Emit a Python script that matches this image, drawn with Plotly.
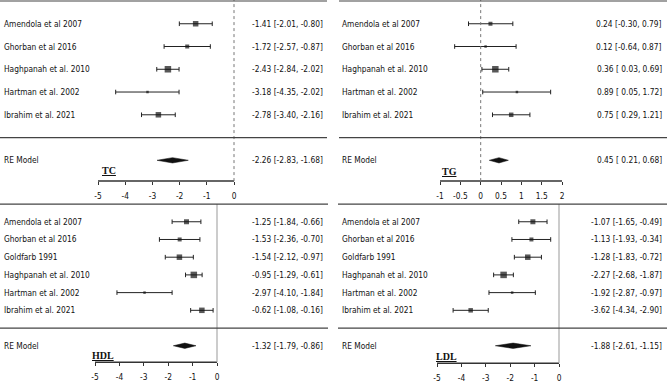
import plotly.graph_objects as go

W, H = 669, 383

# ---------------- data ----------------
studies_top = ["Amendola et al 2007", "Ghorban et al 2016", "Haghpanah et al. 2010",
               "Hartman et al. 2002", "Ibrahim et al. 2021"]
studies_bottom = ["Amendola et al 2007", "Ghorban et al 2016", "Goldfarb 1991",
                  "Haghpanah et al. 2010", "Hartman et al. 2002", "Ibrahim et al. 2021"]

tc_est = [-1.41, -1.72, -2.43, -3.18, -2.78]
tc_lo = [-2.01, -2.57, -2.84, -4.35, -3.40]
tc_hi = [-0.80, -0.87, -2.02, -2.02, -2.16]
tc_re = [-2.26, -2.83, -1.68]

tg_est = [0.24, 0.12, 0.36, 0.89, 0.75]
tg_lo = [-0.30, -0.64, 0.03, 0.05, 0.29]
tg_hi = [0.79, 0.87, 0.69, 1.72, 1.21]
tg_re = [0.45, 0.21, 0.68]

hdl_est = [-1.25, -1.53, -1.54, -0.95, -2.97, -0.62]
hdl_lo = [-1.84, -2.36, -2.12, -1.29, -4.10, -1.08]
hdl_hi = [-0.66, -0.70, -0.97, -0.61, -1.84, -0.16]
hdl_re = [-1.32, -1.79, -0.86]

ldl_est = [-1.07, -1.13, -1.28, -2.27, -1.92, -3.62]
ldl_lo = [-1.65, -1.93, -1.83, -2.68, -2.87, -4.34]
ldl_hi = [-0.49, -0.34, -0.72, -1.87, -0.97, -2.90]
ldl_re = [-1.88, -2.61, -1.15]

ticks_wide = [-5, -4, -3, -2, -1, 0]
ticktext_wide = ["-5", "-4", "-3", "-2", "-1", "0"]
ticks_tg = [-1, -0.5, 0, 0.5, 1, 1.5, 2]
ticktext_tg = ["-1", "-0.5", "0", "0.5", "1", "1.5", "2"]

# ---------------- style ----------------
sq_tc = [5.5, 4, 6.5, 2.5, 5.5]
sq_tg = [4, 2.5, 6.5, 2.5, 4.5]
sq_hdl = [5, 4, 5.5, 6.5, 2.5, 5.5]
sq_ldl = [5, 4, 5.5, 6.5, 2.5, 4.5]

FONT = "DejaVu Sans Condensed, Liberation Sans Narrow, Arial Narrow, sans-serif"
FS = 8.3
INK = "#111111"
LINE = "#444444"

fig = go.Figure()
shapes = []
annotations = []


def fmt_col(vals):
    s = [f"{v:.2f}" for v in vals]
    w = max(len(t) for t in s)
    return [t.rjust(w) for t in s]


def add_panel(i, studies, est, lo, hi, re, sq, ticks, ticktext, title,
              xl, xr, zero_px, ppu, ytop, ybot, row0_px, rpp, axis_px,
              label_px, right_px, top_row, zero_dash, title_px):
    xa = "x" if i == 1 else f"x{i}"
    ya = "y" if i == 1 else f"y{i}"
    xkey = "xaxis" if i == 1 else f"xaxis{i}"
    ykey = "yaxis" if i == 1 else f"yaxis{i}"
    k = len(studies)
    rows = list(range(k, 0, -1))
    xrange_ = [(xl - zero_px) / ppu, (xr - zero_px) / ppu]
    yrange_ = [(row0_px - ybot) / rpp, (row0_px - ytop) / rpp]
    axis_row = (row0_px - axis_px) / rpp

    # study estimates with CIs
    fig.add_trace(go.Scatter(
        x=est, y=rows, mode="markers", xaxis=xa, yaxis=ya,
        marker=dict(symbol="square", size=sq, color=INK, line=dict(width=0)),
        error_x=dict(type="data", symmetric=False,
                     array=[h - e for h, e in zip(hi, est)],
                     arrayminus=[e - l for e, l in zip(est, lo)],
                     color="#222", thickness=1, width=2.3),
        showlegend=False, hoverinfo="skip"))
    # RE diamond
    h = 2.7 / rpp
    fig.add_trace(go.Scatter(
        x=[re[1], re[0], re[2], re[0], re[1]],
        y=[-1, -1 + h, -1, -1 - h, -1],
        mode="lines", fill="toself", fillcolor=INK,
        line=dict(color=INK, width=0.5), xaxis=xa, yaxis=ya,
        showlegend=False, hoverinfo="skip"))

    fig.layout[xkey] = dict(
        domain=[xl / W, xr / W], range=xrange_, anchor="free",
        position=1 - axis_px / H, showgrid=False, zeroline=False,
        showline=False, tickmode="array", tickvals=ticks, ticktext=ticktext,
        ticks="outside", ticklen=3, tickwidth=1.2, tickcolor="#333",
        tickfont=dict(family=FONT, size=FS, color=INK),
        ticklabelstandoff=4, fixedrange=True)
    fig.layout[ykey] = dict(
        domain=[1 - ybot / H, 1 - ytop / H], range=yrange_, visible=False,
        anchor=xa, fixedrange=True)

    # axis line
    shapes.append(dict(type="line", xref=xa, yref=ya, x0=ticks[0], x1=ticks[-1],
                       y0=axis_row, y1=axis_row, line=dict(color="#333", width=1.5)))
    # zero reference line
    y_top_zero = yrange_[1] if zero_dash == "dot" else top_row
    shapes.append(dict(type="line", xref=xa, yref=ya, x0=0, x1=0,
                       y0=axis_row, y1=y_top_zero,
                       line=dict(color="#777" if zero_dash == "dot" else "#999",
                                 width=1, dash=zero_dash)))
    # horizontal rules
    for r in (top_row, 0):
        shapes.append(dict(type="line", xref=f"{xa} domain", yref=ya, x0=0, x1=1,
                           y0=r, y1=r, line=dict(color=LINE, width=1.2)))

    # labels
    lab_x = (label_px - xl) / (xr - xl)
    est_x = (right_px - xl) / (xr - xl)
    c_est = fmt_col(est + [re[0]])
    c_lo = fmt_col(lo + [re[1]])
    c_hi = fmt_col(hi + [re[2]])
    texts = [f"{a} [{b}, {c}]" for a, b, c in zip(c_est, c_lo, c_hi)]
    for name, r in zip(studies + ["RE Model"], rows + [-1]):
        annotations.append(dict(text=name, xref=f"{xa} domain", yref=ya,
                                x=lab_x, y=r, xanchor="left", yanchor="middle",
                                showarrow=False,
                                font=dict(family=FONT, size=FS, color=INK)))
    for t, r in zip(texts, rows + [-1]):
        annotations.append(dict(text=t.replace(" ", "\u00a0"), xref=f"{xa} domain", yref=ya,
                                x=est_x, y=r, xanchor="right", yanchor="middle",
                                showarrow=False,
                                font=dict(family=FONT, size=FS, color=INK)))
    annotations.append(dict(text=f"<b><u>{title}</u></b>", xref="paper", yref="paper",
                            x=title_px[0] / W, y=1 - title_px[1] / H,
                            xanchor="center", yanchor="middle", showarrow=False,
                            font=dict(family="Liberation Serif, DejaVu Serif, serif",
                                      size=10, color=INK)))


add_panel(1, studies_top, tc_est, tc_lo, tc_hi, tc_re, sq_tc, ticks_wide, ticktext_wide, "TC",
          0, 327, 234, 27.2, 0, 192, 139, 23, 183, 2, 325, 6, "dot", (109, 172))
add_panel(2, studies_top, tg_est, tg_lo, tg_hi, tg_re, sq_tg, ticks_tg, ticktext_tg, "TG",
          339, 667, 480.7, 40.67, 0, 192, 139, 23, 183, 340, 664, 6, "dot", (449, 173))
add_panel(3, studies_bottom, hdl_est, hdl_lo, hdl_hi, hdl_re, sq_hdl, ticks_wide, ticktext_wide, "HDL",
          0, 328, 217, 24.4, 203, 375, 331.5, 17.9, 366, 2, 325, 7, "solid", (103, 359))
add_panel(4, studies_bottom, ldl_est, ldl_lo, ldl_hi, ldl_re, sq_ldl, ticks_wide, ticktext_wide, "LDL",
          338, 667, 559, 24.4, 203, 375, 331.5, 17.9, 367, 340, 664, 7, "solid", (446, 360))

fig.update_layout(
    width=W, height=H, margin=dict(l=0, r=0, t=0, b=0),
    paper_bgcolor="white", plot_bgcolor="white",
    shapes=shapes, annotations=annotations, showlegend=False)

fig.write_html("out.html", config={"displayModeBar": False},
               post_script="document.body.style.margin='0';document.body.style.overflow='hidden';")
